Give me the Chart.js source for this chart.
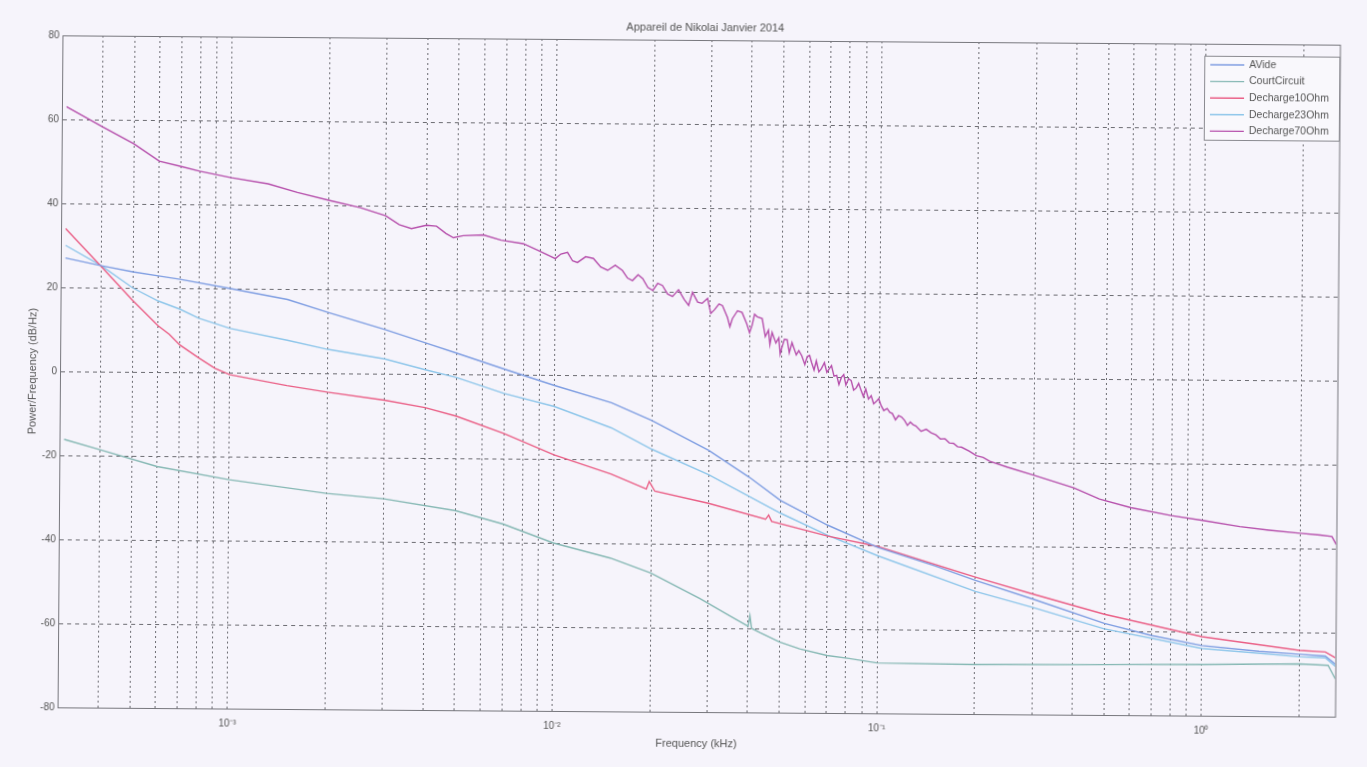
<!DOCTYPE html>
<html>
<head>
<meta charset="utf-8">
<script src="https://cdn.jsdelivr.net/npm/chart.js@4.4.0/dist/chart.umd.min.js"></script>
<style>
  body { margin: 0; background: #f6f4fb; }
  /* the scanned figure is slightly tilted */
  #myChart { display: block; transform: rotate(0.42deg); transform-origin: 698.75px 376px; }
</style>
</head>
<body>
<canvas id="myChart" width="1367" height="767"></canvas>
<script>
// frequencies in kHz, values in dB/Hz
let freqVide = [0.00031, 0.0004, 0.0005, 0.0006, 0.0007, 0.001, 0.0015, 0.002, 0.003, 0.004, 0.005, 0.007, 0.01, 0.015, 0.02, 0.03, 0.04, 0.05, 0.07, 0.1, 0.15, 0.2, 0.3, 0.5, 0.7, 1.0, 1.5, 2.0, 2.4, 2.58]
let dbVide = [27, 25.2, 23.8, 22.9, 22.1, 20, 17.5, 14.5, 10.5, 7.4, 5, 1.3, -2.5, -6.5, -10.7, -17.7, -24, -29.5, -35.3, -40.5, -44.8, -48.2, -52.5, -58.2, -61, -63.3, -64.6, -65.2, -65.6, -67.5]

let freqCourt = [0.00031, 0.0004, 0.0006, 0.001, 0.002, 0.003, 0.005, 0.007, 0.01, 0.015, 0.02, 0.0284, 0.035, 0.04, 0.0405, 0.041, 0.0435, 0.05, 0.0577, 0.07, 0.082, 0.1, 0.2, 0.5, 1.0, 2.0, 2.45, 2.58]
let dbCourt = [-16.2, -18.6, -22.5, -25.5, -28.6, -29.8, -32.5, -35.6, -40, -43.5, -47, -53, -57, -59.5, -57, -60, -61, -63.2, -64.8, -66.3, -67, -68, -68.2, -68, -67.8, -67.5, -67.8, -71]

let freq10 = [0.00031, 0.0004, 0.0005, 0.0006, 0.00065, 0.0007, 0.0008, 0.0009, 0.001, 0.0015, 0.002, 0.003, 0.004, 0.005, 0.007, 0.01, 0.015, 0.0193, 0.0197, 0.0205, 0.03, 0.045, 0.046, 0.047, 0.07, 0.1, 0.2, 0.3, 0.5, 1.0, 2.0, 2.4, 2.58]
let db10 = [34, 25, 17, 11, 9, 6.5, 3.5, 1, -0.5, -3, -4.5, -6.3, -8, -10, -14, -19, -23.5, -27, -25.2, -27.5, -30.3, -34, -33, -34.5, -37.9, -40.3, -47.4, -51.3, -56, -61.2, -64.3, -64.6, -66]

let freq23 = [0.00031, 0.0004, 0.0005, 0.0006, 0.0007, 0.0008, 0.001, 0.0015, 0.002, 0.003, 0.004, 0.005, 0.007, 0.01, 0.015, 0.02, 0.03, 0.05, 0.07, 0.1, 0.2, 0.3, 0.5, 1.0, 2.0, 2.4, 2.58]
let db23 = [30, 25.2, 20, 16.9, 15, 12.9, 10.5, 7.8, 5.7, 3.5, 1, -0.8, -4.5, -7.5, -12.5, -17.5, -23.5, -32.5, -37.7, -42.5, -50.8, -54.5, -59.5, -64, -65.8, -66, -68]

let freq70 = [0.00031, 0.0004, 0.0005, 0.0006, 0.0007, 0.0008, 0.001, 0.0013, 0.0016, 0.002, 0.0025, 0.003, 0.0033, 0.0036, 0.004, 0.0043, 0.0046, 0.00485, 0.0052, 0.006, 0.0068, 0.00796, 0.00885,
  0.01, 0.0104, 0.0109, 0.0113, 0.0117, 0.0124, 0.0131, 0.0138, 0.0145, 0.0153, 0.0161, 0.0167, 0.0173, 0.018, 0.0186, 0.0193,
  0.02, 0.0207, 0.0214, 0.0222, 0.023, 0.024, 0.025, 0.0258, 0.0265, 0.0275, 0.0284, 0.0295, 0.0302, 0.031, 0.032, 0.0328, 0.034, 0.0346, 0.0352, 0.0365, 0.0377, 0.039,
  0.0398, 0.0405, 0.0412, 0.042, 0.0435, 0.0445, 0.0455, 0.046, 0.0467, 0.048, 0.049, 0.0495, 0.05, 0.051, 0.052, 0.0528, 0.0538, 0.0555, 0.0565, 0.0577, 0.059, 0.06, 0.061, 0.0619, 0.063, 0.064, 0.0652, 0.0664, 0.0678, 0.069,
  0.0713, 0.0726, 0.074, 0.0752, 0.0765, 0.0778, 0.079, 0.0805, 0.082, 0.0835, 0.085, 0.0865, 0.0881, 0.0895, 0.091, 0.0928, 0.0946, 0.0963, 0.098, 0.0998, 0.1015, 0.1035, 0.106, 0.108, 0.11, 0.1125, 0.115, 0.1175, 0.12, 0.1225, 0.125, 0.1275, 0.13, 0.135, 0.14, 0.145, 0.15,
  0.155, 0.16, 0.165, 0.17, 0.175, 0.18, 0.19, 0.2, 0.21, 0.22, 0.25, 0.3, 0.4, 0.48, 0.6, 0.8, 1.0, 1.3, 1.6, 2.0, 2.3, 2.5, 2.58]
let db70 = [63, 58.3, 54.3, 50.2, 49, 47.9, 46.4, 45, 43, 41.2, 39.5, 37.6, 35.5, 34.6, 35.4, 35.2, 33.5, 32.5, 33, 33.2, 32, 31.2, 29.6,
  27.7, 28.8, 29.2, 27.2, 26.8, 28.2, 27.8, 25.8, 25, 26.2, 25, 23.2, 22.6, 24, 23.1, 21,
  20.3, 22, 21.5, 19.5, 18.9, 20.5, 18.2, 16.8, 19.9, 17.6, 17.3, 18.5, 14.9, 15.8, 17.2, 16.8, 14, 11.8, 13.7, 15.6, 15.2, 12.5,
  10.4, 12.1, 14.8, 14.2, 13.8, 9.5, 11, 7.6, 10.5, 8, 9.2, 5.4, 6.7, 8.9, 8.8, 5.7, 8.1, 5.2, 6.2, 5, 2.9, 4.8, 5.1, 3.4, 1.6, 3.8, 1.2, 2, 3.4, 1.1,
  2.7, 0.2, 0.4, -1.8, -0.1, 0.6, -1.9, -0.4, -0.8, -3.1, -2.6, -1.5, -3.2, -4.6, -2.8, -5.2, -4.4, -6.3, -5.8, -5.1, -6.7, -7.9, -7.4, -8.3, -8.6, -10.1, -9.1, -9.4, -10.2, -11.4, -10.6, -11.2, -11.5, -12.8, -12.3, -13.1, -13.6,
  -14.6, -14.5, -15.5, -15.6, -16.4, -16.5, -17.4, -18.5, -18.9, -19.8, -21.2, -23, -26, -28.6, -30.6, -32.4, -33.5, -34.9, -35.7, -36.4, -36.8, -37.1, -39]

let seriesNames = ['AVide', 'CourtCircuit', 'Decharge10Ohm', 'Decharge23Ohm', 'Decharge70Ohm']
let seriesColors = ['#7f9ee2', '#86b8b4', '#ea5f86', '#8ec6ea', '#b650ac']

let yTicks = [-80, -60, -40, -20, 0, 20, 40, 60, 80]
let xMajor = [0.001, 0.01, 0.1, 1]
let xLabels = ['10⁻³', '10⁻²', '10⁻¹', '10⁰']
let xMin = 0.00031
let xMax = 2.58
let chartTitle = 'Appareil de Nikolai Janvier 2014'

function pairs(fs, vs) {
    return fs.map((f, i) => ({ x: f, y: vs[i] }))
}

let allFreqs = [freqVide, freqCourt, freq10, freq23, freq70]
let allDb = [dbVide, dbCourt, db10, db23, db70]

let datasets = seriesNames.map((name, i) => ({
    label: name,
    data: pairs(allFreqs[i], allDb[i]),
    borderColor: seriesColors[i],
    borderWidth: 1.4,
    pointRadius: 0,
    tension: 0
}))

// every 1..9 x 10^n gridline inside the range
let xGrid = []
for (let n = -4; n <= 0; n++) {
    for (let k = 1; k <= 9; k++) {
        let v = k * Math.pow(10, n)
        if (v >= xMin && v <= xMax) xGrid.push(v)
    }
}

const fontFam = '"Liberation Sans", Arial, sans-serif'

const frame = {
    id: 'frame',
    afterDraw(chart) {
        const c = chart.ctx
        const a = chart.chartArea
        c.save()
        c.strokeStyle = '#77777d'
        c.lineWidth = 1
        c.strokeRect(a.left + 0.5, a.top + 0.5, a.right - a.left, a.bottom - a.top)

        // title over the middle of the axes
        c.fillStyle = '#555'
        c.font = '11px ' + fontFam
        c.textAlign = 'center'
        c.textBaseline = 'middle'
        c.fillText(chartTitle, (a.left + a.right) / 2 + 4, 28)

        // legend box in the top right corner
        const bx = 1202, by = 52, bw = 135, bh = 84
        c.fillStyle = '#f9f8fc'
        c.fillRect(bx, by, bw, bh)
        c.strokeStyle = '#8a8a90'
        c.strokeRect(bx + 0.5, by + 0.5, bw, bh)
        c.font = '10.5px ' + fontFam
        c.textAlign = 'left'
        chart.data.datasets.forEach((ds, i) => {
            const yy = by + 9 + i * 16.6
            c.strokeStyle = ds.borderColor
            c.lineWidth = 1.4
            c.beginPath()
            c.moveTo(bx + 6, yy)
            c.lineTo(bx + 40, yy)
            c.stroke()
            c.fillStyle = '#555'
            c.fillText(ds.label, bx + 45, yy)
        })
        c.restore()
    }
}

var ctx = document.getElementById('myChart')
var myChart = new Chart(ctx, {
    type: 'line',
    data: { datasets: datasets },
    plugins: [frame],
    options: {
        responsive: false,
        animation: false,
        devicePixelRatio: 1,
        layout: { padding: { left: 0, right: 29.5, top: 40, bottom: 0 } },
        plugins: {
            legend: { display: false },
            tooltip: { enabled: false },
            title: { display: false }
        },
        scales: {
            x: {
                type: 'logarithmic',
                min: xMin,
                max: xMax,
                afterBuildTicks: (axis) => { axis.ticks = xGrid.map(v => ({ value: v })) },
                afterFit: (axis) => { axis.height = 55 },
                ticks: {
                    autoSkip: false,
                    maxRotation: 0,
                    padding: 9,
                    color: '#555',
                    font: { family: fontFam, size: 10 },
                    callback: (value) => {
                        let i = xMajor.findIndex(m => Math.abs(m - value) / m < 1e-6)
                        return i >= 0 ? xLabels[i] : ''
                    }
                },
                grid: { color: '#6c6c72', lineWidth: 1, drawTicks: false },
                border: { display: true, color: '#77777d', dash: [2, 3] },
                title: {
                    display: true,
                    text: 'Frequency (kHz)',
                    color: '#555',
                    font: { family: fontFam, size: 11 },
                    padding: { top: 0, bottom: 16 }
                }
            },
            y: {
                min: -80,
                max: 80,
                afterBuildTicks: (axis) => { axis.ticks = yTicks.map(v => ({ value: v })) },
                afterFit: (axis) => { axis.width = 60 },
                ticks: {
                    padding: 3,
                    color: '#555',
                    font: { family: fontFam, size: 10 }
                },
                grid: { color: '#6c6c72', lineWidth: 1, drawTicks: false },
                border: { display: true, color: '#77777d', dash: [4, 4] },
                title: {
                    display: true,
                    text: 'Power/Frequency (dB/Hz)',
                    color: '#555',
                    font: { family: fontFam, size: 11 },
                    padding: { top: 26, bottom: 0 }
                }
            }
        }
    }
})
</script>
</body>
</html>
